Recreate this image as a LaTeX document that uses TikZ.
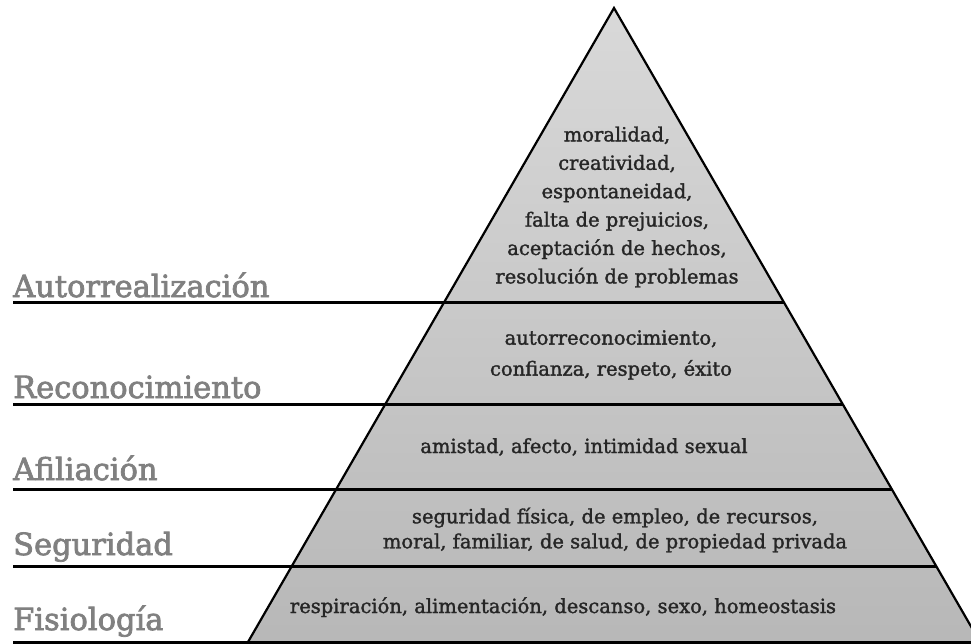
\documentclass[tikz,border=0pt]{standalone}
\usepackage{fontspec}
\setmainfont{DejaVu Serif}[FakeBold=1.6]
\newfontfamily\levelfont{DejaVu Serif}[FakeBold=2.4]
\begin{document}
\begin{tikzpicture}[
        x=1pt, y=-1pt,
        tier/.style={draw, line width=3pt},
        side/.style={draw, line width=2.2pt, line join=miter},
        levelname/.style={text=black!50, font=\levelfont\fontsize{30.5}{31}\selectfont, anchor=base west, inner sep=0pt},
        need/.style={text=black!85, font=\fontsize{19.5}{28.4}\selectfont, align=center, inner sep=0pt},
    ]
    \useasboundingbox (0,0) rectangle (971,644);
    \coordinate (apex) at (614,8);
    \coordinate (bl) at (248,642);
    \coordinate (br) at (980,642);
    % pyramid body
    \shade[top color=gray!30, bottom color=gray!56] (apex) -- (bl) -- (br) -- cycle;
    % underlines, running into the right side of the pyramid
    \foreach \y in {302,404,489,566,642}
        \draw[tier] (13,\y) -- ({614+0.5774*(\y-8)},\y);
    \draw[side] (bl) -- (apex) -- (br);
    % levels
    \node[levelname](autorrealizacion) at (13,297){Autorrealización};
    \node[levelname](reconocimiento) at (13,398){Reconocimiento};
    \node[levelname](afiliacion) at (13,480){Afiliación};
    \node[levelname](seguridad) at (13,555){Seguridad};
    \node[levelname](fisiologia) at (13,630){Fisiología};
    % needs inside each tier
    \node[need](autorrealizacion-n) at (617,207){moralidad,\\creatividad,\\espontaneidad,\\falta de prejuicios,\\aceptación de hechos,\\resolución de problemas};
    \node[need, font=\fontsize{19.5}{31}\selectfont](reconocimiento-n) at (611,355){autorreconocimiento,\\confianza, respeto, éxito};
    \node[need, anchor=base](afiliacion-n) at (584,453){amistad, afecto, intimidad sexual};
    \node[need, font=\fontsize{19.5}{25}\selectfont](seguridad-n) at (615,530){seguridad física, de empleo, de recursos,\\moral, familiar, de salud, de propiedad privada};
    \node[need, anchor=base](fisiologia-n) at (563,613){respiración, alimentación, descanso, sexo, homeostasis};
\end{tikzpicture}
\end{document}
